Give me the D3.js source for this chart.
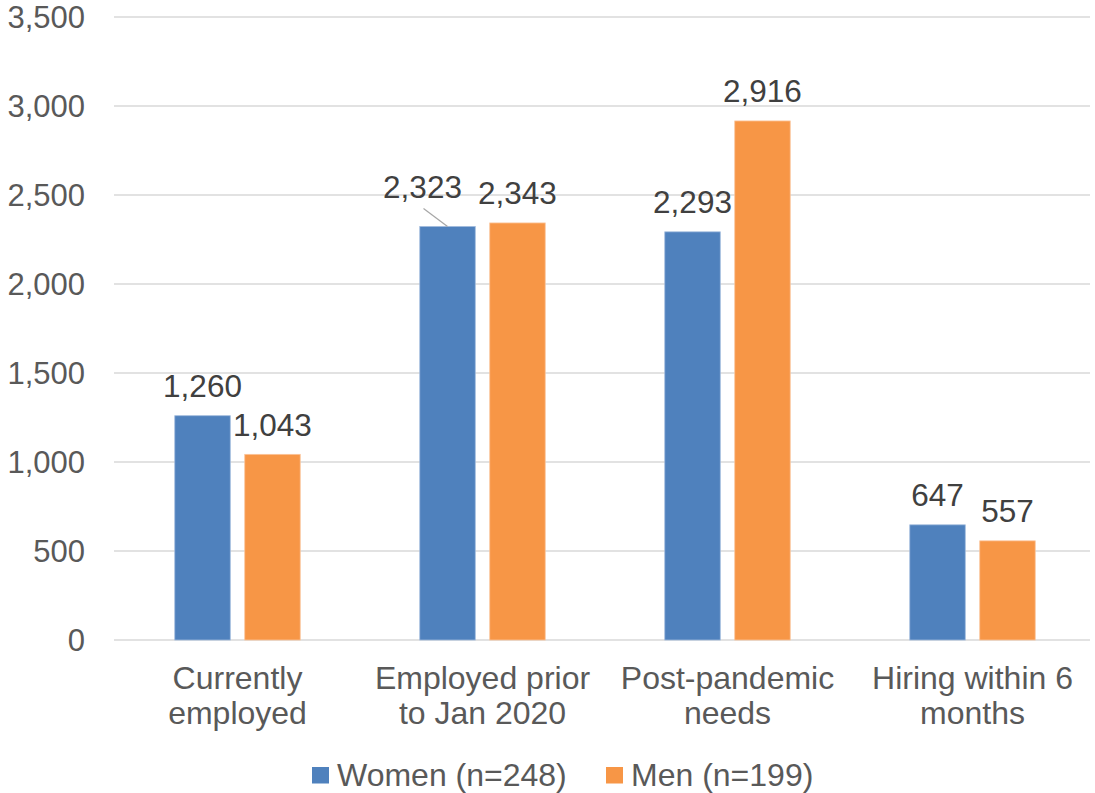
<!DOCTYPE html>
<html>
<head>
<meta charset="utf-8">
<script src="https://cdn.jsdelivr.net/npm/d3@7"></script>
<style>
  body { margin: 0; background: #fff; }
  svg { display: block; font-family: "Liberation Sans", Arial, sans-serif; }
</style>
</head>
<body>
<div id="chart"></div>
<script>
// chart values
const categories = [["Currently", "employed"], ["Employed prior", "to Jan 2020"], ["Post-pandemic", "needs"], ["Hiring within 6", "months"]];
const seriesNames = ["Women (n=248)", "Men (n=199)"];
const women = [1260, 2323, 2293, 647];
const men = [1043, 2343, 2916, 557];
const yTicks = [0, 500, 1000, 1500, 2000, 2500, 3000, 3500];
const colors = ["#4F81BD", "#F79646"];

const width = 1095, height = 793;
const svg = d3.select("#chart").append("svg")
    .attr("width", width)
    .attr("height", height);

let y = d3.scaleLinear().domain([0, 3500]).range([640, 17]);
let x0 = d3.scaleBand()
    .domain(d3.range(categories.length))
    .range([115, 1095])
    .paddingInner(0.488)
    .paddingOuter(0.244);
let x1 = d3.scaleBand()
    .domain([0, 1])
    .range([0, x0.bandwidth()])
    .paddingInner(0.207);

// gridlines + y labels
let yAxis = svg.append("g");
yAxis.selectAll("line")
    .data(yTicks)
    .join("line")
    .attr("x1", 114).attr("x2", 1090)
    .attr("y1", d => y(d)).attr("y2", d => y(d))
    .attr("stroke", "#d9d9d9")
    .attr("stroke-width", 1.5);
yAxis.selectAll("text")
    .data(yTicks)
    .join("text")
    .attr("x", 85)
    .attr("y", d => y(d) + 10.5)
    .attr("text-anchor", "end")
    .attr("font-size", 31)
    .attr("fill", "#595959")
    .text(d => d3.format(",")(d));

// bars
let rows = [];
categories.forEach((c, i) => {
    rows.push({ cat: i, s: 0, v: women[i] });
    rows.push({ cat: i, s: 1, v: men[i] });
});

svg.append("g").selectAll("rect")
    .data(rows)
    .join("rect")
    .attr("x", d => x0(d.cat) + x1(d.s))
    .attr("y", d => y(d.v))
    .attr("width", x1.bandwidth())
    .attr("height", d => y(0) - y(d.v))
    .attr("fill", d => colors[d.s])
    .attr("stroke", d => d.s == 0 ? "#9fb9dc" : "#fbc49a")
    .attr("stroke-width", 0.8);

// data labels (the 2,323 label was nudged up-left with a leader line)
let labels = svg.append("g");
rows.forEach(d => {
    let cx = x0(d.cat) + x1(d.s) + x1.bandwidth() / 2;
    let ty = y(d.v) - 18.5;
    let tx = cx;
    if (d.cat == 1 && d.s == 0) {
        tx = cx - 25;
        ty = y(d.v) - 29;
        labels.append("line")
            .attr("x1", cx - 24).attr("y1", y(d.v) - 18)
            .attr("x2", cx).attr("y2", y(d.v))
            .attr("stroke", "#a6a6a6")
            .attr("stroke-width", 1.2);
    }
    labels.append("text")
        .attr("x", tx)
        .attr("y", ty)
        .attr("text-anchor", "middle")
        .attr("font-size", 31.5)
        .attr("fill", "#404040")
        .text(d3.format(",")(d.v));
});

// category labels
svg.append("g").selectAll("text")
    .data(categories)
    .join("text")
    .attr("x", (d, i) => x0(i) + x0.bandwidth() / 2)
    .attr("y", 689)
    .attr("text-anchor", "middle")
    .attr("font-size", 32)
    .attr("fill", "#595959")
    .each(function (d) {
        d3.select(this).selectAll("tspan")
            .data(d)
            .join("tspan")
            .attr("x", d3.select(this).attr("x"))
            .attr("dy", (t, k) => k == 0 ? 0 : 35)
            .text(t => t);
    });

// legend
let legendX = [312, 606];
let legend = svg.append("g");
seriesNames.forEach((name, i) => {
    legend.append("rect")
        .attr("x", legendX[i]).attr("y", 767)
        .attr("width", 17).attr("height", 16.5)
        .attr("fill", colors[i]);
    legend.append("text")
        .attr("x", legendX[i] + 25)
        .attr("y", 785.5)
        .attr("font-size", 32)
        .attr("fill", "#595959")
        .text(name);
});
</script>
</body>
</html>
